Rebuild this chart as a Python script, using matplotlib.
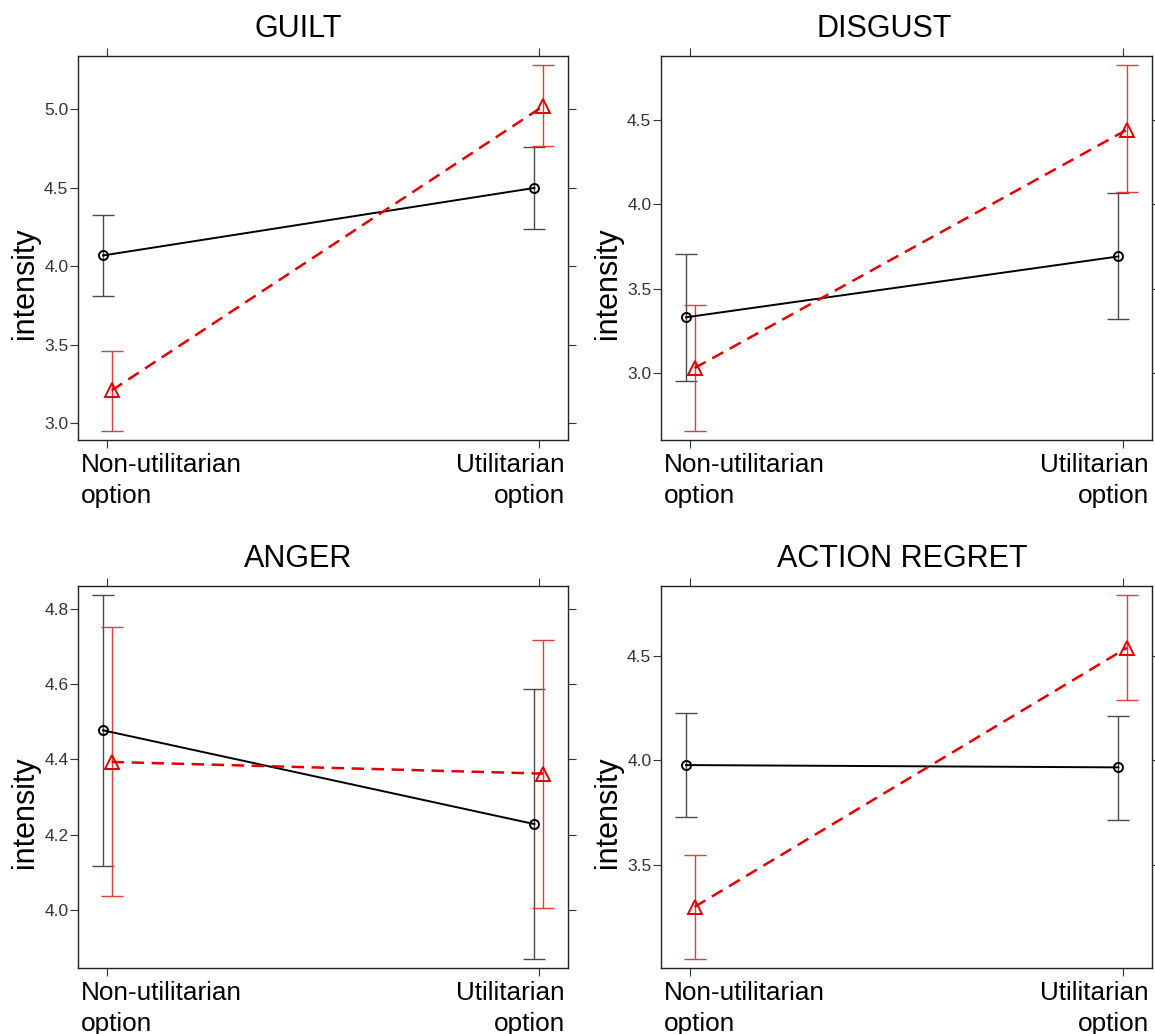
import matplotlib
matplotlib.use("Agg")
import matplotlib.pyplot as plt
import numpy as np
from matplotlib.ticker import MultipleLocator, FormatStrFormatter

plt.rcParams['font.family'] = ['Liberation Sans', 'DejaVu Sans']

panels = ["GUILT", "DISGUST", "ANGER", "ACTION REGRET"]
options = ["Non-utilitarian\noption", "Utilitarian\noption"]

# group 1 (circles, solid line): means and interval bounds per panel
grp1_mean = [[4.07, 4.50], [3.33, 3.69], [4.477, 4.228], [3.977, 3.966]]
grp1_lo = [[3.81, 4.24], [2.955, 3.32], [4.118, 3.871], [3.73, 3.713]]
grp1_hi = [[4.33, 4.76], [3.705, 4.065], [4.835, 4.586], [4.226, 4.212]]

# group 2 (triangles, dashed line)
grp2_mean = [[3.21, 5.02], [3.03, 4.44], [4.393, 4.362], [3.30, 4.537]]
grp2_lo = [[2.955, 4.765], [2.66, 4.07], [4.037, 4.004], [3.053, 4.287]]
grp2_hi = [[3.46, 5.28], [3.40, 4.82], [4.75, 4.718], [3.547, 4.787]]

ytick_step = [0.5, 0.5, 0.2, 0.5]

# layout in pixels (figure is 1155 x 1034 at 100 dpi)
W, H = 1155, 1034
boxes = [(78, 56, 490, 384), (661, 56, 491, 384),
         (78, 586, 490, 382), (661, 586, 491, 382)]
title_x = [0.45, 0.454, 0.45, 0.491]

fig = plt.figure(figsize=(W / 100, H / 100), dpi=100)
fig.patch.set_facecolor('white')

tick_col = '#333333'
x = np.array([1.0, 2.0])
dx = 0.01

for i, name in enumerate(panels):
    l, t, w, h = boxes[i]
    ax = fig.add_axes([l / W, 1 - (t + h) / H, w / W, h / H])

    m1, m2 = np.array(grp1_mean[i]), np.array(grp2_mean[i])
    lo1, hi1 = np.array(grp1_lo[i]), np.array(grp1_hi[i])
    lo2, hi2 = np.array(grp2_lo[i]), np.array(grp2_hi[i])

    ax.errorbar(x - dx, m1, yerr=[m1 - lo1, hi1 - m1], fmt='none',
                ecolor='#4a4a4a', elinewidth=1.0, capsize=8, capthick=1.0, zorder=2)
    ax.errorbar(x + dx, m2, yerr=[m2 - lo2, hi2 - m2], fmt='none',
                ecolor='#e03c3c', elinewidth=1.0, capsize=8, capthick=1.0, zorder=2)
    ax.plot(x - dx, m1, color='black', lw=1.4, marker='o', ms=6.5,
            mfc='none', mec='black', mew=1.4, zorder=3)
    ax.plot(x + dx, m2, color='#e00000', lw=1.8, ls=(0, (5, 3)), marker='^',
            ms=10.5, mfc='none', mec='#e00000', mew=1.4, zorder=3)

    lo = min(lo1.min(), lo2.min())
    hi = max(hi1.max(), hi2.max())
    pad = 0.026 * (hi - lo)
    ax.set_ylim(lo - pad, hi + pad)
    ax.set_xlim(0.932, 2.068)

    ax.yaxis.set_major_locator(MultipleLocator(ytick_step[i]))
    ax.yaxis.set_major_formatter(FormatStrFormatter('%.1f'))
    ax.set_xticks(x)
    ax.set_xticklabels([])
    ax.tick_params(axis='both', direction='out', length=5.5, width=0.8,
                   color=tick_col, labelcolor=tick_col, labelsize=12.5, pad=1.5)
    ax.tick_params(top=True, right=True, labelright=False, labeltop=False)
    for s in ax.spines.values():
        s.set_color('#222222')
        s.set_linewidth(1.0)

    ax.text(0.006, -12.5 / h, options[0], transform=ax.transAxes, ha='left',
            va='top', fontsize=18.8, linespacing=1.38, multialignment='left')
    ax.text(0.994, -12.5 / h, options[1], transform=ax.transAxes, ha='right',
            va='top', fontsize=18.8, linespacing=1.38, multialignment='right')

    ax.text(-0.108, 0.409, "intensity", transform=ax.transAxes, rotation=90,
            ha='center', va='center', fontsize=22)
    ax.annotate(name, xy=(title_x[i], 1), xycoords='axes fraction',
                xytext=(0, 13.7), textcoords='offset points', ha='center',
                va='baseline', fontsize=22)

fig.savefig("out.png", dpi=100, facecolor='white')
